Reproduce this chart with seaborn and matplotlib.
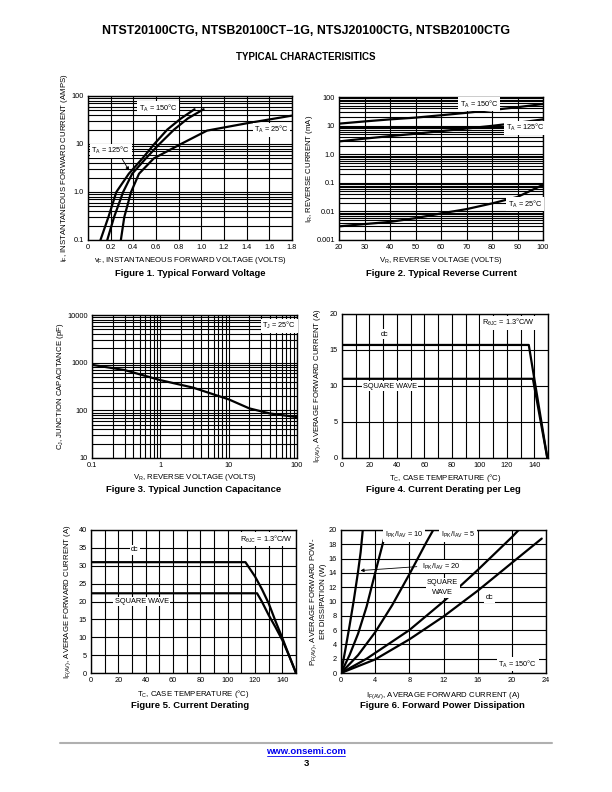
import pandas as pd
import matplotlib.pyplot as plt
import seaborn as sns
from matplotlib.ticker import FixedLocator, LogLocator, NullFormatter, MultipleLocator, FixedFormatter

sns.set_theme(style="white")
plt.rcParams['font.family'] = ['Liberation Sans', 'DejaVu Sans']
plt.rcParams['mathtext.default'] = 'regular'
plt.rcParams['text.color'] = 'black'
plt.rcParams['axes.labelcolor'] = 'black'

W, H = 612, 792

# --- Figure 1: forward voltage ---
vf_150 = [0.11, 0.18, 0.25, 0.36, 0.48, 0.585, 0.70, 0.82, 0.94]
if_150 = [0.1, 0.3, 1.0, 2.4, 5.0, 10, 20, 34, 53]
vf_125 = [0.17, 0.23, 0.31, 0.39, 0.51, 0.63, 0.76, 0.88, 1.02]
if_125 = [0.1, 0.3, 1.0, 2.4, 5.0, 10, 20, 34, 53]
vf_25 = [0.29, 0.32, 0.38, 0.45, 0.58, 0.82, 1.05, 1.4, 1.8]
if_25 = [0.1, 0.3, 1.0, 2.4, 5.0, 10, 19, 27, 39]
vf_ticks = [0, 0.2, 0.4, 0.6, 0.8, 1.0, 1.2, 1.4, 1.6, 1.8]
vf_labels = ['0', '0.2', '0.4', '0.6', '0.8', '1.0', '1.2', '1.4', '1.6', '1.8']

# --- Figure 2: reverse current ---
vr = [20, 30, 40, 50, 60, 70, 80, 90, 100]
ir_150 = [11.7, 14, 16.5, 19, 23, 28, 35, 44, 57]
ir_125 = [2.8, 3.5, 4.3, 5.2, 6.4, 7.9, 9.8, 12.5, 16.5]
ir_25 = [0.0030, 0.0036, 0.0043, 0.0058, 0.0085, 0.012, 0.019, 0.032, 0.085]

# --- Figure 3: junction capacitance ---
vr_c = [0.1, 0.3, 1, 3, 10, 20, 40, 100]
cj = [900, 700, 430, 300, 170, 110, 86, 72]

# --- Figure 4: derating per leg ---
tc4_dc = [0, 136, 149.5]
if4_dc = [15.7, 15.7, 0]
tc4_sw = [0, 139, 149.5]
if4_sw = [11.0, 11.0, 0]

# --- Figure 5: derating ---
tc5_dc = [0, 113, 120, 125, 130, 135, 140, 145, 150]
if5_dc = [31, 31, 27, 23.5, 19.5, 14.5, 9.8, 4.8, 0]
tc5_sw = [0, 121.5, 125, 130, 135, 140, 145, 150]
if5_sw = [22.3, 22.3, 20, 16.2, 12.8, 9.2, 4.8, 0]
tc_ticks = [0, 20, 40, 60, 80, 100, 120, 140]

# --- Figure 6: forward power dissipation ---
i_20 = [0, 0.5, 1, 1.5, 2, 2.3, 2.55]
p_20 = [0, 3.2, 6.6, 10.2, 14.2, 16.9, 20]
i_10 = [0, 1, 2, 3, 4, 5, 5.3]
p_10 = [0, 2.5, 5.5, 9.3, 14, 18.6, 20]
i_5 = [0, 2, 4, 6, 8, 10, 10.8]
p_5 = [0, 2.5, 5.7, 9.5, 13.8, 18.3, 20]
i_sq = [0, 3, 8, 12, 16, 20, 20.8]
p_sq = [0, 2, 6, 10, 14.4, 19, 20]
i_dc = [0, 4, 8, 12, 16, 20, 23.5]
p_dc = [0, 1.9, 4.7, 7.9, 11.5, 15.4, 18.8]

fig = plt.figure(figsize=(W / 100, H / 100), dpi=100)


def make_ax(x0, y0, x1, y1):
    ax = fig.add_axes([x0 / W, 1 - y1 / H, (x1 - x0) / W, (y1 - y0) / H])
    for s in ax.spines.values():
        s.set_color('black')
        s.set_linewidth(1.0)
    ax.tick_params(length=0, labelsize=5.3, pad=3, colors='black')
    return ax


def curve(ax, xs, ys):
    df = pd.DataFrame({'x': xs, 'y': ys})
    sns.lineplot(data=df, x='x', y='y', ax=ax, color='black', linewidth=1.6,
                 estimator=None, sort=False)
    ax.set_xlabel('')
    ax.set_ylabel('')


def ftext(x, y, s, **kw):
    fig.text(x / W, 1 - y / H, s, ha='center', va='center', **kw)


box = dict(facecolor='white', edgecolor='none', pad=1.0)
grid_kw = dict(color='black', linewidth=0.8)

# Figure 1
ax1 = make_ax(88, 96, 292, 240)
for xs, ys in [(vf_150, if_150), (vf_125, if_125), (vf_25, if_25)]:
    curve(ax1, xs, ys)
ax1.set_yscale('log')
ax1.set_xlim(0, 1.8)
ax1.set_ylim(0.1, 100)
ax1.xaxis.set_major_locator(FixedLocator(vf_ticks))
ax1.xaxis.set_major_formatter(FixedFormatter(vf_labels))
ax1.yaxis.set_major_locator(FixedLocator([0.1, 1, 10, 100]))
ax1.yaxis.set_major_formatter(FixedFormatter(['0.1', '1.0', '10', '100']))
ax1.yaxis.set_minor_locator(LogLocator(base=10, subs=range(2, 10)))
ax1.yaxis.set_minor_formatter(NullFormatter())
ax1.grid(True, which='both', axis='y', **grid_kw)
ax1.grid(True, which='major', axis='x', **grid_kw)
ax1.text(0.62, 55, '$T_A$ = 150°C', fontsize=5.3, ha='center', va='center', bbox=box)
ax1.text(1.62, 20, '$T_A$ = 25°C', fontsize=5.3, ha='center', va='center', bbox=box)
ax1.text(0.2, 7.2, '$T_A$ = 125°C', fontsize=5.3, ha='center', va='center', bbox=box)
ax1.annotate('', xy=(0.375, 2.5), xytext=(0.29, 5.4),
             arrowprops=dict(arrowstyle='-|>', color='black', lw=0.6, mutation_scale=5))
ax1.set_xlabel('$v_F$, INSTANTANEOUS FORWARD VOLTAGE (VOLTS)', fontsize=5.6, labelpad=3)
ax1.set_ylabel('$i_F$, INSTANTANEOUS FORWARD CURRENT (AMPS)', fontsize=5.6, labelpad=1)

# Figure 2
ax2 = make_ax(339, 97, 543, 240)
for ys in [ir_150, ir_125, ir_25]:
    curve(ax2, vr, ys)
ax2.set_yscale('log')
ax2.set_xlim(20, 100)
ax2.set_ylim(0.001, 100)
ax2.xaxis.set_major_locator(MultipleLocator(10))
ax2.yaxis.set_major_locator(FixedLocator([0.001, 0.01, 0.1, 1, 10, 100]))
ax2.yaxis.set_major_formatter(FixedFormatter(['0.001', '0.01', '0.1', '1.0', '10', '100']))
ax2.yaxis.set_minor_locator(LogLocator(base=10, subs=range(2, 10)))
ax2.yaxis.set_minor_formatter(NullFormatter())
ax2.grid(True, which='both', axis='y', **grid_kw)
ax2.grid(True, which='major', axis='x', **grid_kw)
ax2.text(75, 55, '$T_A$ = 150°C', fontsize=5.3, ha='center', va='center', bbox=box)
ax2.text(93, 8.5, '$T_A$ = 125°C', fontsize=5.3, ha='center', va='center', bbox=box)
ax2.text(93, 0.0175, '$T_A$ = 25°C', fontsize=5.3, ha='center', va='center', bbox=box)
ax2.set_xlabel('$V_R$, REVERSE VOLTAGE (VOLTS)', fontsize=5.6, labelpad=3)
ax2.set_ylabel('$I_R$, REVERSE CURRENT (mA)', fontsize=5.6, labelpad=1)

# Figure 3
ax3 = make_ax(92, 315, 297, 458)
curve(ax3, vr_c, cj)
ax3.set_xscale('log')
ax3.set_yscale('log')
ax3.set_xlim(0.1, 100)
ax3.set_ylim(10, 10000)
ax3.xaxis.set_major_locator(FixedLocator([0.1, 1, 10, 100]))
ax3.xaxis.set_major_formatter(FixedFormatter(['0.1', '1', '10', '100']))
ax3.yaxis.set_major_locator(FixedLocator([10, 100, 1000, 10000]))
ax3.yaxis.set_major_formatter(FixedFormatter(['10', '100', '1000', '10000']))
for a in (ax3.xaxis, ax3.yaxis):
    a.set_minor_locator(LogLocator(base=10, subs=range(2, 10)))
    a.set_minor_formatter(NullFormatter())
ax3.grid(True, which='both', **grid_kw)
ax3.text(55, 6000, '$T_J$ = 25°C', fontsize=5.3, ha='center', va='center', bbox=box)
ax3.set_xlabel('$V_R$, REVERSE VOLTAGE (VOLTS)', fontsize=5.6, labelpad=2)
ax3.set_ylabel('$C_J$, JUNCTION CAPACITANCE (pF)', fontsize=5.6, labelpad=1)

# Figure 4
ax4 = make_ax(342, 314, 548, 458)
curve(ax4, tc4_dc, if4_dc)
curve(ax4, tc4_sw, if4_sw)
ax4.set_xlim(0, 150)
ax4.set_ylim(0, 20)
ax4.xaxis.set_major_locator(FixedLocator(tc_ticks))
ax4.xaxis.set_minor_locator(MultipleLocator(10))
ax4.yaxis.set_major_locator(MultipleLocator(5))
ax4.grid(True, which='both', axis='x', **grid_kw)
ax4.grid(True, which='major', axis='y', **grid_kw)
ax4.text(31, 17.2, 'dc', fontsize=5.3, ha='center', va='center', bbox=box)
ax4.text(35, 10, 'SQUARE WAVE', fontsize=5.3, ha='center', va='center', bbox=box)
ax4.text(121, 18.8, '$R_{θJC}$ = 1.3°C/W', fontsize=5.3, ha='center', va='center', bbox=box)
ax4.set_xlabel('$T_C$, CASE TEMPERATURE (°C)', fontsize=5.6, labelpad=2)
ax4.set_ylabel('$I_{F(AV)}$, AVERAGE FORWARD CURRENT (A)', fontsize=5.6, labelpad=5)

# Figure 5
ax5 = make_ax(91, 530, 296, 673)
curve(ax5, tc5_dc, if5_dc)
curve(ax5, tc5_sw, if5_sw)
ax5.set_xlim(0, 150)
ax5.set_ylim(0, 40)
ax5.xaxis.set_major_locator(FixedLocator(tc_ticks))
ax5.xaxis.set_minor_locator(MultipleLocator(10))
ax5.yaxis.set_major_locator(MultipleLocator(5))
ax5.grid(True, which='both', axis='x', **grid_kw)
ax5.grid(True, which='major', axis='y', **grid_kw)
ax5.text(32, 34.5, 'dc', fontsize=5.3, ha='center', va='center', bbox=box)
ax5.text(37, 20, 'SQUARE WAVE', fontsize=5.3, ha='center', va='center', bbox=box)
ax5.text(128, 37.5, '$R_{θJC}$ = 1.3°C/W', fontsize=5.3, ha='center', va='center', bbox=box)
ax5.set_xlabel('$T_C$, CASE TEMPERATURE (°C)', fontsize=5.6, labelpad=3)
ax5.set_ylabel('$I_{F(AV)}$, AVERAGE FORWARD CURRENT (A)', fontsize=5.6, labelpad=4)

# Figure 6
ax6 = make_ax(341, 530, 546, 673)
for xs, ys in [(i_20, p_20), (i_10, p_10), (i_5, p_5), (i_sq, p_sq), (i_dc, p_dc)]:
    curve(ax6, xs, ys)
ax6.set_xlim(0, 24)
ax6.set_ylim(0, 20)
ax6.xaxis.set_major_locator(MultipleLocator(4))
ax6.yaxis.set_major_locator(MultipleLocator(2))
ax6.grid(True, which='major', **grid_kw)
ax6.text(7.4, 19.3, '$I_{PK}/I_{AV}$ = 10', fontsize=5.3, ha='center', va='center', bbox=box)
ax6.text(13.7, 19.3, '$I_{PK}/I_{AV}$ = 5', fontsize=5.3, ha='center', va='center', bbox=box)
ax6.text(11.7, 14.9, '$I_{PK}/I_{AV}$ = 20', fontsize=5.3, ha='center', va='center', bbox=box)
ax6.annotate('', xy=(1.95, 14.3), xytext=(9.2, 14.9),
             arrowprops=dict(arrowstyle='-|>', color='black', lw=0.6, mutation_scale=5))
ax6.text(11.9, 11.9, 'SQUARE\nWAVE', fontsize=5.3, ha='center', va='center',
         linespacing=1.6, bbox=box)
ax6.text(17.4, 10.5, 'dc', fontsize=5.3, ha='center', va='center', bbox=box)
ax6.text(20.7, 1.2, '$T_A$ = 150°C', fontsize=5.3, ha='center', va='center', bbox=box)
ax6.set_xlabel('$I_{F(AV)}$, AVERAGE FORWARD CURRENT (A)', fontsize=5.6, labelpad=4)
ax6.set_ylabel('$P_{F(AV)}$, AVERAGE FORWARD POW-\nER DISSIPATION (W)', fontsize=5.6,
               labelpad=1, linespacing=1.2)

# captions
ftext(190, 273, 'Figure 1. Typical Forward Voltage', fontsize=6.8, weight='bold')
ftext(441, 273, 'Figure 2. Typical Reverse Current', fontsize=6.8, weight='bold')
ftext(194, 489, 'Figure 3. Typical Junction Capacitance', fontsize=6.8, weight='bold')
ftext(443, 489, 'Figure 4. Current Derating per Leg', fontsize=6.8, weight='bold')
ftext(190, 705, 'Figure 5. Current Derating', fontsize=6.8, weight='bold')
ftext(442, 705, 'Figure 6. Forward Power Dissipation', fontsize=6.8, weight='bold')

# header and footer
ftext(306, 31, 'NTST20100CTG, NTSB20100CT−1G, NTSJ20100CTG, NTSB20100CTG',
      fontsize=8.9, weight='bold')
ftext(306, 57, 'TYPICAL CHARACTERISITICS', fontsize=7.0, weight='bold')
fig.add_artist(plt.Line2D([60 / W, 552 / W], [1 - 743 / H, 1 - 743 / H],
                          color='#b0b0b0', linewidth=1.5))
ftext(306, 752, 'www.onsemi.com', fontsize=6.8, weight='bold', color='#0000ee')
fig.add_artist(plt.Line2D([267 / W, 345 / W], [1 - 756 / H, 1 - 756 / H],
                          color='#0000ee', linewidth=0.6))
ftext(306, 763, '3', fontsize=6.8, weight='bold')

fig.savefig('out.png', dpi=100)
